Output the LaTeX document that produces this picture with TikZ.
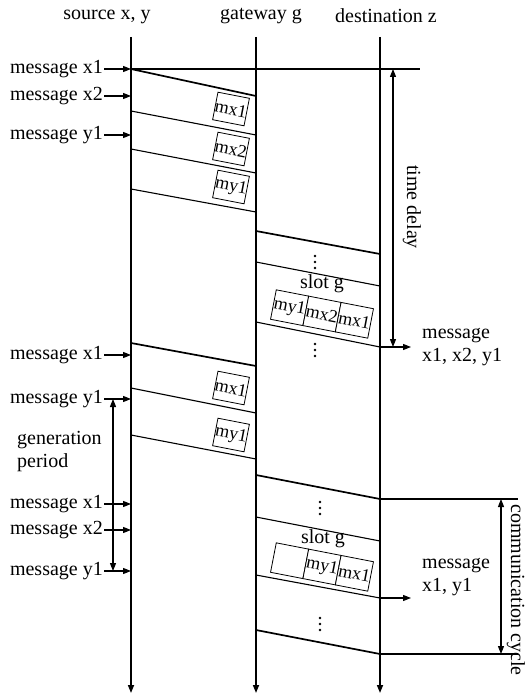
\documentclass[tikz,border=0pt]{standalone}
\usepackage{fontspec}
\setmainfont{Liberation Serif}
\usepackage{tikz}
\usetikzlibrary{arrows.meta,positioning,calc}
\usepackage{xcolor}
\definecolor{ink}{HTML}{000000}
\tikzset{
  lbl/.style={font=\fontsize{20}{23}\selectfont,text=ink,inner sep=1pt},
  lifeline/.style={-{Triangle[length=8pt,width=6pt]},line width=1.6pt,color=ink},
  frame/.style={fill=white,draw=ink,line width=0.8pt,minimum width=30pt,minimum height=28pt,
    inner sep=0pt,rotate=-11,font=\fontsize{18}{21}\selectfont},
  cell/.style={frame,minimum width=33pt,minimum height=30pt},
  pkt/.style={line width=1.1pt,color=ink},
  pktb/.style={line width=1.7pt,color=ink},
  inarr/.style={-{Triangle[length=8pt,width=6pt]},line width=1.1pt,color=ink},
  span/.style={{Triangle[length=8pt,width=6pt]}-{Triangle[length=8pt,width=6pt]},line width=1.1pt,color=ink},
  guide/.style={line width=1.1pt,color=ink},
  dot/.style={circle,fill=ink,inner sep=0pt,minimum size=2.6pt},
}

\begin{document}
\begin{tikzpicture}[x=1pt,y=-1pt]
  \useasboundingbox (0,0) rectangle (528,695);
  % headers
  \node[lbl] (hsrc) at (107,17){source x, y};
  \node[lbl] (hgw) at (261,16){gateway g};
  \node[lbl] (hdst) at (386,16){destination z};
  % life lines
  \coordinate (sT) at (131,37); \coordinate (sB) at (131,693);
  \coordinate (gT) at (256,37); \coordinate (gB) at (256,693);
  \coordinate (dT) at (380,37); \coordinate (dB) at (380,693);
  \draw[lifeline] (sT)--(sB); \draw[lifeline] (gT)--(gB); \draw[lifeline] (dT)--(dB);
  % source -> gateway
  \draw[pktb] (131,69)--(256,96);
  \foreach \ya/\yb in {111/135,149/173,189/212,388/413,435/459}
    \draw[pkt] (131,\ya)--(256,\yb);
  \draw[pktb] (131,343)--(256,366);
  \node[frame] (bx1) at (231,109){mx1}; \node[frame] (bx2) at (231,149){mx2};
  \node[frame] (by1) at (231,187){my1};
  \node[frame] (bx3) at (231,388){mx1}; \node[frame] (by3) at (231,435){my1};
  % gateway -> destination
  \draw[pktb] (256,231)--(380,254); \draw[pktb] (256,475)--(380,499);
  \draw[pktb] (256,630)--(380,654);
  \foreach \ya/\yb in {262/286,322/347,517/541,575/598}
    \draw[pkt] (256,\ya)--(380,\yb);
  \foreach \x/\y in {315/262,315/350,320/508,320/624}
    \foreach \k in {-6,0,6}
      \node[dot] at (\x,\y+\k){};
  % slots
  \begin{scope}[shift={(322,314)},rotate=-11]
    \node[cell] (c1) at (-33,0){my1}; \node[cell] (c2) at (0,0){mx2};
    \node[cell] (c3) at (33,0){mx1};
  \end{scope}
  \node[lbl] (sg1) at (322,284){slot g};
  \begin{scope}[shift={(322,567)},rotate=-11]
    \node[cell] (e1) at (-33,0){}; \node[cell] (e2) at (0,0){my1};
    \node[cell] (e3) at (33,0){mx1};
  \end{scope}
  \node[lbl] (sg2) at (323,539){slot g};
  % incoming messages
  \foreach \n/\y/\t in {m1/69/x1,m2/96/x2,m3/135/y1,m4/355/x1,m5/399/y1,m6/504/x1,m7/530/x2,m8/571/y1}{
    \node[lbl,anchor=east] (\n) at (104,\y){message \t};
    \coordinate (\n s) at (131,\y);
    \draw[inarr] (\n)--(\n s);
  }
  % delivered
  \coordinate (o1) at (380,347); \coordinate (o1e) at (411,347);
  \coordinate (o2) at (380,598); \coordinate (o2e) at (411,598);
  \draw[inarr] (o1)--(o1e); \draw[inarr] (o2)--(o2e);
  \node[lbl,anchor=west,align=left] (r1) at (421,347){message\\x1, x2, y1};
  \node[lbl,anchor=west,align=left] (r2) at (421,577){message\\x1, y1};
  % spans
  \coordinate (h0) at (420,69); \draw[guide] (m1s)--(h0);
  \coordinate (h1) at (518,499); \coordinate (h2) at (518,654);
  \draw[guide] (dB|-h1)--(h1); \draw[guide] (dB|-h2)--(h2);
  \coordinate (td0) at (393,69); \coordinate (td1) at (393,347);
  \draw[span] (td0)--(td1);
  \node[lbl,rotate=-90] (tdl) at (412,207){time delay};
  \coordinate (gp0) at (113,399); \coordinate (gp1) at (113,571);
  \draw[span] (gp0)--(gp1);
  \node[lbl,anchor=west,align=left] (gpl) at (16,452){generation\\period};
  \coordinate (cc0) at (501,499); \coordinate (cc1) at (501,654);
  \draw[span] (cc0)--(cc1);
  \node[lbl,rotate=-90] (ccl) at (516,590){communication cycle};
\end{tikzpicture}
\end{document}
